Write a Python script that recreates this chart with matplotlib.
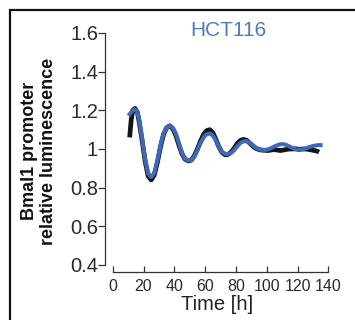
import matplotlib
matplotlib.use("Agg")
import matplotlib.pyplot as plt
from matplotlib.patches import Rectangle

plt.rcParams['font.family'] = ['Liberation Sans', 'DejaVu Sans']

# bioluminescence trace (black) and damped sine fit (blue)
t_data = [11, 12, 13, 14.5, 16, 17, 19, 21, 23, 25, 27, 29, 31, 33, 35, 37, 39, 41, 43, 45,
          47, 49, 51, 53, 55, 57, 59, 61, 63, 65, 67, 69, 71, 73, 75, 77, 79, 81, 83, 85,
          87, 89, 91, 93, 95, 97, 99, 101, 103, 105, 107, 109, 111, 113, 115, 117, 119,
          121, 123, 125, 127, 129, 131, 133, 134]
lum_data = [1.06, 1.15, 1.20, 1.21, 1.19, 1.15, 1.05, 0.94, 0.86, 0.84, 0.865, 0.93, 1.01,
            1.075, 1.11, 1.12, 1.105, 1.07, 1.02, 0.975, 0.947, 0.938, 0.942, 0.965, 1.0,
            1.04, 1.075, 1.095, 1.10, 1.085, 1.05, 1.01, 0.982, 0.97, 0.972, 0.985, 1.005,
            1.03, 1.045, 1.05, 1.045, 1.03, 1.015, 1.003, 0.997, 0.994, 0.993, 0.992, 0.995,
            0.997, 0.994, 0.992, 0.995, 0.998, 1.0, 1.0, 1.001, 0.998, 1.0, 1.0, 0.998,
            0.995, 0.992, 0.988, 0.984]

t_fit = [11, 12.5, 14, 15.5, 17, 19, 21, 23, 25, 27, 29, 31, 33, 35, 37, 39, 41, 43, 45, 47,
         49, 51, 53, 55, 57, 59, 61, 63, 65, 67, 69, 71, 73, 75, 77, 79, 81, 83, 85, 87, 89,
         91, 93, 95, 97, 99, 101, 103, 105, 107, 109, 111, 113, 115, 117, 119, 121, 123,
         125, 127, 129, 131, 133, 135]
lum_fit = [1.18, 1.195, 1.205, 1.20, 1.16, 1.06, 0.95, 0.875, 0.855, 0.875, 0.94, 1.02,
           1.08, 1.11, 1.12, 1.11, 1.08, 1.03, 0.98, 0.95, 0.94, 0.942, 0.96, 0.995, 1.03,
           1.06, 1.077, 1.08, 1.07, 1.045, 1.01, 0.985, 0.975, 0.974, 0.98, 0.995, 1.015,
           1.032, 1.04, 1.04, 1.032, 1.02, 1.007, 0.998, 0.995, 0.995, 0.998, 1.005, 1.013,
           1.02, 1.025, 1.025, 1.02, 1.012, 1.004, 0.998, 0.997, 0.998, 1.002, 1.008, 1.013,
           1.017, 1.02, 1.02]

yticks = [0.4, 0.6, 0.8, 1.0, 1.2, 1.4, 1.6]
ytick_labels = ['0.4', '0.6', '0.8', '1', '1.2', '1.4', '1.6']
xticks = [0, 20, 40, 60, 80, 100, 120, 140]

W, H = 355, 320
fig = plt.figure(figsize=(W / 100, H / 100), dpi=100)
ax = fig.add_axes([105 / W, 1 - 272 / H, (328.3 - 105) / W, (272 - 33) / H])

ax.plot(t_data, lum_data, color='#151515', lw=3.4, solid_capstyle='butt', zorder=2)
ax.plot(t_fit, lum_fit, color='#3d69b8', lw=2.9, zorder=3)

ax.set_xlim(-5, 140)
ax.set_ylim(0.4 - 7 / 193, 1.6)
for s in ['top', 'right']:
    ax.spines[s].set_visible(False)
ax.spines['left'].set_bounds(0.4, 1.6)
ax.spines['bottom'].set_bounds(0, 140)
for s in ['left', 'bottom']:
    ax.spines[s].set_linewidth(0.9)
    ax.spines[s].set_color('#333333')

ax.set_yticks(yticks)
ax.set_yticklabels(ytick_labels)
ax.set_xticks(xticks)
ax.tick_params(axis='y', direction='out', length=5, width=0.9, labelsize=14.5,
               pad=0, colors='#333333', labelcolor='#2a2a2a')
ax.tick_params(axis='x', direction='in', length=4, width=0.9, labelsize=11.5,
               pad=5, colors='#333333', labelcolor='#2a2a2a')

ax.set_xlabel('Time [h]', fontsize=14.5, labelpad=1, color='#222222')
fig.text(39 / W, 1 - 151 / H, 'Bmal1 promoter\nrelative luminescence', rotation=90,
         ha='center', va='center', fontsize=13, fontweight='bold', linespacing=1.15,
         color='#111111')
fig.text(228 / W, 1 - 31 / H, 'HCT116', ha='center', va='center', fontsize=15,
         color='#4a7cc0')

# outer panel frame (cut off at right and bottom)
fig.patches.append(Rectangle((10 / W, -0.1), 1.2, 1 - 10 / H + 0.1,
                             transform=fig.transFigure, fill=False,
                             edgecolor='#111111', lw=1.6))

fig.savefig('out.png', dpi=100)
